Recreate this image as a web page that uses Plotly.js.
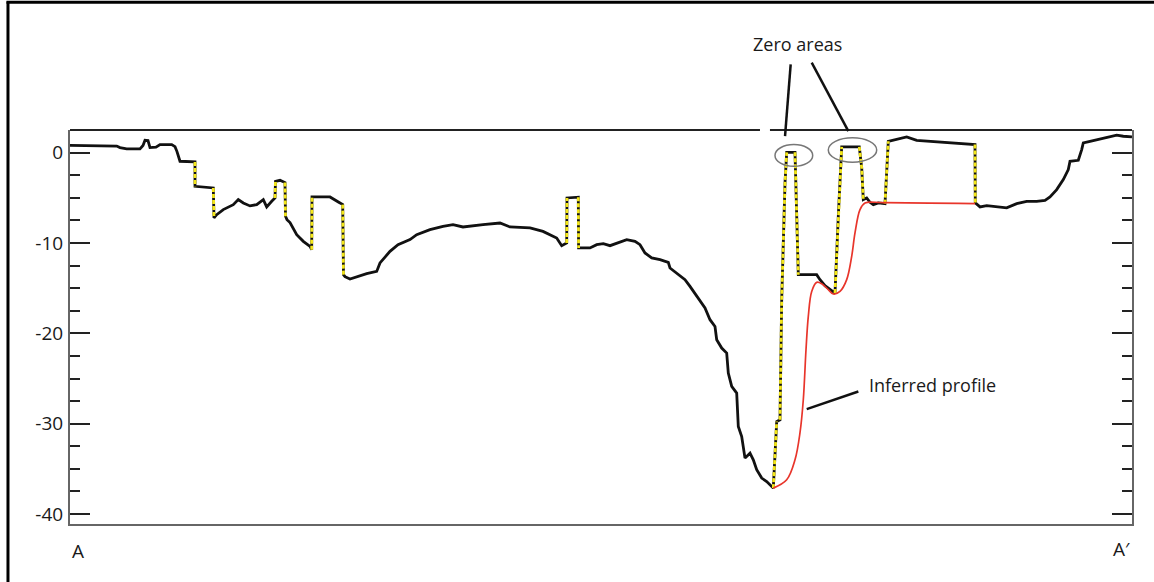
<!DOCTYPE html>
<html>
<head>
<meta charset="utf-8">
<script src="https://cdn.plot.ly/plotly-3.0.1.min.js"></script>
<style>
  html, body { margin: 0; padding: 0; background: #ffffff; }
  #chart { width: 1154px; height: 582px; }
</style>
</head>
<body>
<div id="chart"></div>
<script>
// Measured profile (distance along A–A', depth)
const profileX = [0,46.7,50,56.7,70,73,75,78,80,86,90,101.7,105,107,110,125,125,135,143.3,144,146.7,153.3,163.3,168.3,173.3,180,186.7,193.3,196.7,201.7,205,205.5,210,215,215.5,217,220,226.7,233.3,240,241.7,242,260,270,272.7,273.5,275,280,286.7,296.7,306.7,310,320,328,340,346.7,360,373,383,393,413,430,440,460,473,486.7,491.7,496.7,497,508.3,508.6,520,526.7,533.3,540,546.7,556.7,565,570,575,581.7,590,598.3,600,606.7,615,620,626.7,635,640,645,646.7,651.7,656.7,658.3,661.7,666.7,668.3,671.7,675,680,683.3,686.7,691.7,696.7,703.3,706.7,710,711.7,715,716.7,725,726.7,728.3,746.7,750,755,760,765,768.3,770,771.7,789.3,791.7,793.3,796.7,800,803.3,808.3,815,818.3,836.7,846.7,863,883.3,893.3,905,905.3,910,916.7,930,936.7,946.7,956.7,966.7,975,980,986.7,993.3,998.3,1000,1008.3,1011.7,1013.3,1020,1030,1040,1046.7,1053.3,1062];
const profileY = [0.8,0.72,0.55,0.41,0.41,0.78,1.36,1.33,0.55,0.6,0.89,0.89,0.66,0.11,-0.96,-1.03,-3.73,-3.82,-3.91,-7.23,-6.87,-6.31,-5.76,-5.2,-5.57,-5.9,-5.76,-5.2,-6.01,-5.39,-5.02,-3.18,-3.07,-3.32,-7.05,-7.42,-7.75,-9.08,-9.82,-10.38,-10.74,-4.91,-4.91,-5.57,-5.76,-13.51,-13.73,-13.99,-13.73,-13.4,-13.15,-12.21,-10.93,-10.19,-9.63,-9.08,-8.53,-8.16,-7.97,-8.23,-7.97,-7.79,-8.23,-8.34,-8.72,-9.45,-10.3,-10.0,-5.02,-4.93,-10.55,-10.55,-10.19,-10.08,-10.3,-10.0,-9.63,-9.82,-10.19,-11.11,-11.66,-11.85,-12.15,-12.77,-13.32,-14.06,-14.81,-15.91,-17.2,-18.49,-19.24,-20.71,-21.63,-22.18,-24.4,-25.88,-26.61,-30.31,-31.42,-33.81,-33.26,-34.0,-35.1,-36.02,-36.4,-37.13,-29.76,-29.57,-16.28,-3.36,0.03,0.03,-6.12,-13.51,-13.51,-14.06,-14.73,-15.17,-15.54,-7.05,-2.99,0.63,0.63,-1.69,-5.2,-5.02,-5.5,-5.76,-5.57,-5.65,1.25,1.74,1.36,1.25,1.07,1.0,0.89,-5.57,-6.01,-5.87,-6.01,-6.12,-5.65,-5.39,-5.39,-5.28,-4.91,-4.1,-2.99,-1.88,-0.96,-0.85,0.33,1.07,1.25,1.52,1.74,1.92,1.81,1.74];

// Vertical jumps in the measured profile (segments separated by null)
const jumpX = [125,125,null,143.3,144,null,205,205.5,null,215,215.5,null,241.7,242,null,272.7,273.5,null,496.7,497,null,508.3,508.6,null,703.3,706.7,null,710,711.7,715,716.7,null,725,726.7,728.3,null,765,768.3,770,771.7,null,789.3,791.7,793.3,null,815,818.3,null,905,905.3];
const jumpY = [-1.03,-3.73,null,-3.91,-7.23,null,-5.02,-3.18,null,-3.32,-7.05,null,-10.74,-4.91,null,-5.76,-13.51,null,-10.0,-5.02,null,-4.93,-10.55,null,-37.13,-29.76,null,-29.57,-16.28,-3.36,0.03,null,0.03,-6.12,-13.51,null,-15.54,-7.05,-2.99,0.63,null,0.63,-1.69,-5.2,null,-5.65,1.25,null,0.89,-5.57];

// Inferred profile
const inferredX = [703.3,716.7,725,730,733.3,736,738.3,741.7,746.7,751.7,758.3,763.3,770,776.7,781.7,785,790,795,813.3,905];
const inferredY = [-37.13,-36.21,-34.0,-31.0,-27.35,-21.82,-18.13,-15.36,-14.36,-14.51,-15.17,-15.65,-15.36,-14.06,-11.48,-8.89,-6.31,-5.57,-5.54,-5.65];

// Axis ticks
const yTickVals = [0,-10,-20,-30,-40];
const yTickText = ['0','-10','-20','-30','-40'];

// Zero-area markers (x0, x1, y0, y1)
const zeroAreas = [[705, 742.7, -1.52, 0.89], [758.3, 806.7, -1.07, 1.63]];

const FONT = 'Open Sans, Noto Sans, sans-serif';

const traces = [
  { x: profileX, y: profileY, type: 'scatter', mode: 'lines',
    line: { color: '#111111', width: 2.8 }, hoverinfo: 'skip', showlegend: false },
  { x: jumpX, y: jumpY, type: 'scatter', mode: 'lines', connectgaps: false,
    line: { color: '#f3e61a', width: 2.8, dash: '4px,2px' }, hoverinfo: 'skip', showlegend: false },
  { x: inferredX, y: inferredY, type: 'scatter', mode: 'lines',
    line: { color: '#e8352b', width: 1.7, shape: 'spline', smoothing: 1 }, hoverinfo: 'skip', showlegend: false }
];

const shapes = [];
zeroAreas.forEach(function (z) {
  shapes.push({ type: 'circle', xref: 'x', yref: 'y', x0: z[0], x1: z[1], y0: z[2], y1: z[3],
    line: { color: '#777777', width: 1.5 } });
});
// top frame line with a small gap
shapes.push({ type: 'line', xref: 'paper', yref: 'paper', x0: 0, x1: 0.6497, y0: 1, y1: 1, line: { color: '#222', width: 2 } });
shapes.push({ type: 'line', xref: 'paper', yref: 'paper', x0: 0.6591, x1: 1, y0: 1, y1: 1, line: { color: '#222', width: 2 } });
// leader lines
shapes.push({ type: 'line', xref: 'paper', yref: 'paper', x0: 0.6786, y0: 1.1665, x1: 0.6733, y1: 0.9843, line: { color: '#111', width: 2.5 } });
shapes.push({ type: 'line', xref: 'paper', yref: 'paper', x0: 0.6984, y0: 1.1708, x1: 0.7329, y1: 0.9970, line: { color: '#111', width: 2.5 } });
shapes.push({ type: 'line', xref: 'paper', yref: 'paper', x0: 0.6937, y0: 0.2915, x1: 0.7423, y1: 0.3362, line: { color: '#111', width: 2.5 } });
// outer figure border (left and top)
shapes.push({ type: 'line', xref: 'paper', yref: 'paper', x0: -0.0584, x1: -0.0584, y0: 1.326, y1: -0.16, line: { color: '#000', width: 3 } });
shapes.push({ type: 'line', xref: 'paper', yref: 'paper', x0: -0.0598, x1: 1.03, y0: 1.324, y1: 1.324, line: { color: '#000', width: 3 } });

const annotations = [
  { text: 'Zero areas', xref: 'paper', yref: 'paper', x: 0.6846, y: 1.2173, xanchor: 'center', yanchor: 'middle',
    showarrow: false, font: { family: FONT, size: 18, color: '#1a1a1a' } },
  { text: 'Inferred profile', xref: 'paper', yref: 'paper', x: 0.7505, y: 0.3532, xanchor: 'left', yanchor: 'middle',
    showarrow: false, font: { family: FONT, size: 18, color: '#1a1a1a' } },
  { text: 'A', xref: 'paper', yref: 'paper', x: 0.0075, y: -0.0686, xanchor: 'center', yanchor: 'middle',
    showarrow: false, font: { family: FONT, size: 19, color: '#1a1a1a' } },
  { text: 'A\u2032', xref: 'paper', yref: 'paper', x: 0.9903, y: -0.063, xanchor: 'center', yanchor: 'middle',
    showarrow: false, font: { family: FONT, size: 19, color: '#1a1a1a' } }
];

const layout = {
  width: 1154, height: 582,
  margin: { l: 70, r: 22, t: 130, b: 58 },
  paper_bgcolor: '#ffffff', plot_bgcolor: '#ffffff',
  showlegend: false,
  xaxis: {
    range: [0, 1062], showgrid: false, zeroline: false, showticklabels: false, ticks: '',
    showline: true, linecolor: '#666666', linewidth: 2, mirror: false, fixedrange: true
  },
  yaxis: {
    range: [-41.1, 2.5], showgrid: false, zeroline: false,
    tickmode: 'array', tickvals: yTickVals, ticktext: yTickText,
    ticks: 'inside', ticklen: 20, tickwidth: 2, tickcolor: '#222',
    showline: true, linecolor: '#666666', linewidth: 2, mirror: 'ticks',
    ticklabelstandoff: 1,
    tickfont: { family: FONT, size: 19, color: '#1a1a1a' },
    minor: { dtick: 2.5, tick0: 0, ticks: 'inside', ticklen: 10, tickwidth: 2, tickcolor: '#222', showgrid: false },
    fixedrange: true
  },
  shapes: shapes,
  annotations: annotations
};

Plotly.newPlot('chart', traces, layout, { staticPlot: true, displayModeBar: false });
</script>
</body>
</html>
